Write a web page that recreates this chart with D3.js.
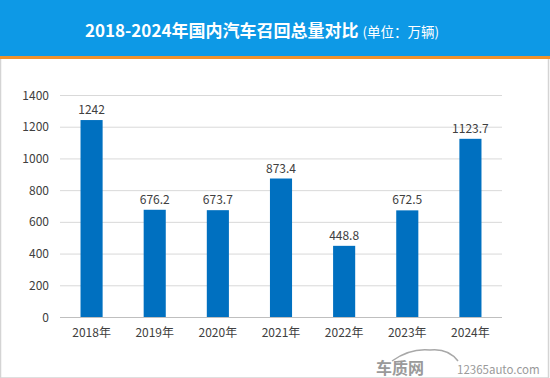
<!DOCTYPE html>
<html lang="zh">
<head>
  <meta charset="UTF-8" />
  <title>2018-2024年国内汽车召回总量对比</title>
  <script src="https://d3js.org/d3.v7.min.js"></script>
  <style>
    body { margin: 0; background: #fff; }
    svg { display: block; font-family: 'Noto Sans CJK SC', 'Noto Sans', sans-serif; }
  </style>
</head>
<body>
<svg width="550" height="378"></svg>
<script>
  const years = ["2018年", "2019年", "2020年", "2021年", "2022年", "2023年", "2024年"];
  const recalls = [1242, 676.2, 673.7, 873.4, 448.8, 672.5, 1123.7];
  const yTicks = [0, 200, 400, 600, 800, 1000, 1200, 1400];

  const svg = d3.select("svg");
  const W = 550, H = 378;

  // panel border
  svg.append("rect").attr("x", 0.5).attr("y", 0).attr("width", W - 2).attr("height", H)
    .attr("fill", "#fff").attr("stroke", "#d4d4d4").attr("stroke-width", 1.5);

  // title bar
  svg.append("rect").attr("x", 0).attr("y", 0).attr("width", W).attr("height", 56).attr("fill", "#0d99e6");
  svg.append("rect").attr("x", 0).attr("y", 56).attr("width", W).attr("height", 3).attr("fill", "#f0922b");

  const title = svg.append("text").attr("x", 262).attr("y", 37).attr("text-anchor", "middle").attr("fill", "#fff");
  title.append("tspan").attr("font-size", 17).attr("font-weight", "bold").text("2018-2024年国内汽车召回总量对比");
  title.append("tspan").attr("font-size", 13.5).attr("dx", 4).text("(单位：万辆)");

  const x = d3.scaleBand().domain(years).range([60, 502]).paddingInner(0.65).paddingOuter(0.325);
  const y = d3.scaleLinear().domain([0, 1400]).range([317, 95]);

  // gridlines
  svg.append("g").selectAll("line").data(yTicks.slice(1)).join("line")
    .attr("x1", 60).attr("x2", 502)
    .attr("y1", d => y(d) + 0.5).attr("y2", d => y(d) + 0.5)
    .attr("stroke", "#d9d9d9");

  // y labels
  svg.append("g").selectAll("text").data(yTicks).join("text")
    .attr("x", 49).attr("y", d => y(d) + 4.5)
    .attr("text-anchor", "end").attr("font-size", 12).attr("fill", "#404040")
    .text(d => d);

  // bars
  svg.append("g").selectAll("rect").data(recalls).join("rect")
    .attr("x", (d, i) => x(years[i]))
    .attr("width", x.bandwidth())
    .attr("y", d => y(d))
    .attr("height", d => y(0) - y(d))
    .attr("fill", "#0070c0");

  // value labels
  svg.append("g").selectAll("text").data(recalls).join("text")
    .attr("x", (d, i) => x(years[i]) + x.bandwidth() / 2)
    .attr("y", d => y(d) - 6)
    .attr("text-anchor", "middle").attr("font-size", 12).attr("fill", "#404040")
    .text(d => d);

  // baseline
  svg.append("line").attr("x1", 60).attr("x2", 502).attr("y1", y(0) + 0.5).attr("y2", y(0) + 0.5)
    .attr("stroke", "#bfbfbf");

  // x labels
  svg.append("g").selectAll("text").data(years).join("text")
    .attr("x", d => x(d) + x.bandwidth() / 2)
    .attr("y", 337)
    .attr("text-anchor", "middle").attr("font-size", 12).attr("fill", "#404040")
    .text(d => d);

  // watermark
  const wm = svg.append("g").attr("fill", "#9a9a9a");
  wm.append("path").attr("d", "M392,361 Q410,348 430,350 Q448,348 458,361")
    .attr("fill", "none").attr("stroke", "#a8a8a8").attr("stroke-width", 1.5);
  wm.append("text").attr("x", 376).attr("y", 374).attr("font-size", 16).attr("font-weight", "bold").text("车质网");
  wm.append("text").attr("x", 457).attr("y", 374).attr("font-size", 11.5).text("12365auto.com");
</script>
</body>
</html>
